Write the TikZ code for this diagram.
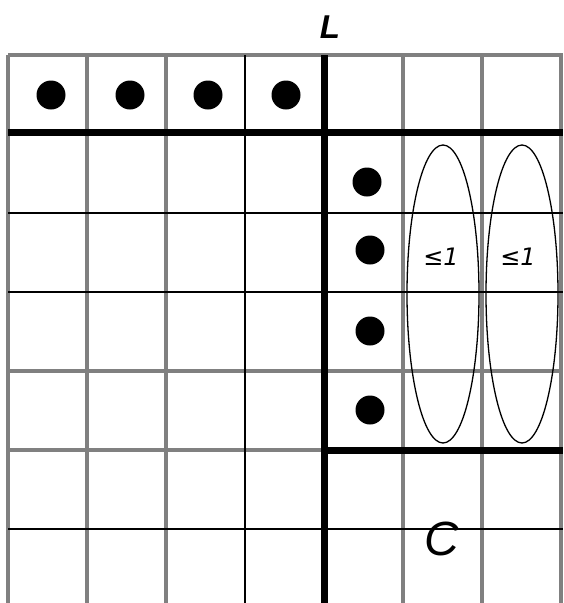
\documentclass[tikz,border=0pt]{standalone}
\usepackage{fontspec}
\setsansfont{Liberation Sans}
\newfontfamily\symfont{DejaVu Sans}
\usetikzlibrary{shapes.geometric}
\definecolor{gridgray}{RGB}{128,128,128}

\begin{document}
\begin{tikzpicture}[x=1pt,y=-1pt,
  gline/.style={draw=gridgray,line width=3.2pt},
  bline/.style={draw=black,line width=1.8pt},
  wall/.style={draw=black,line width=7pt},
  dot/.style={circle,fill=black,inner sep=0pt,minimum size=29pt},
  loop/.style={ellipse,draw=black,line width=1.3pt,minimum width=72pt,minimum height=298pt,inner sep=0pt},
  lbl/.style={font=\sffamily\itshape,inner sep=0pt},
  bound/.style={font=\symfont\itshape\fontsize{24}{24}\selectfont,inner sep=0pt}]
\useasboundingbox (0,0) rectangle (563,603);
% grid
\foreach \x in {8,87,166,324,403,482,561} \draw[gline] (\x,55) -- (\x,603);
\foreach \y in {55,371,450} \draw[gline] (8,\y) -- (563,\y);
\draw[bline] (245,55) -- (245,603);
\foreach \y in {213,292,529} \draw[bline] (8,\y) -- (563,\y);
% walls
\draw[wall] (8,132) -- (563,132);
\draw[wall] (324,55) -- (324,603);
\draw[wall] (324,450) -- (563,450);
% items
\node[dot] (r1) at (51,95) {};
\node[dot] (r2) at (130,95) {};
\node[dot] (r3) at (208,95) {};
\node[dot] (r4) at (286,95) {};
\node[dot] (c1) at (367,182) {};
\node[dot] (c2) at (370,250) {};
\node[dot] (c3) at (370,331) {};
\node[dot] (c4) at (370,410) {};
% column groups
\node[loop] (g1) at (443,294) {};
\node[loop] (g2) at (522,294) {};
\node[bound] (b1) at (441,257) {≤1};
\node[bound] (b2) at (518,257) {≤1};
% labels
\node[lbl,font=\sffamily\bfseries\itshape\fontsize{33}{33}\selectfont] (lL) at (330,27) {L};
\node[lbl,font=\sffamily\itshape\fontsize{48}{48}\selectfont] (lC) at (442,539) {C};
\end{tikzpicture}
\end{document}
